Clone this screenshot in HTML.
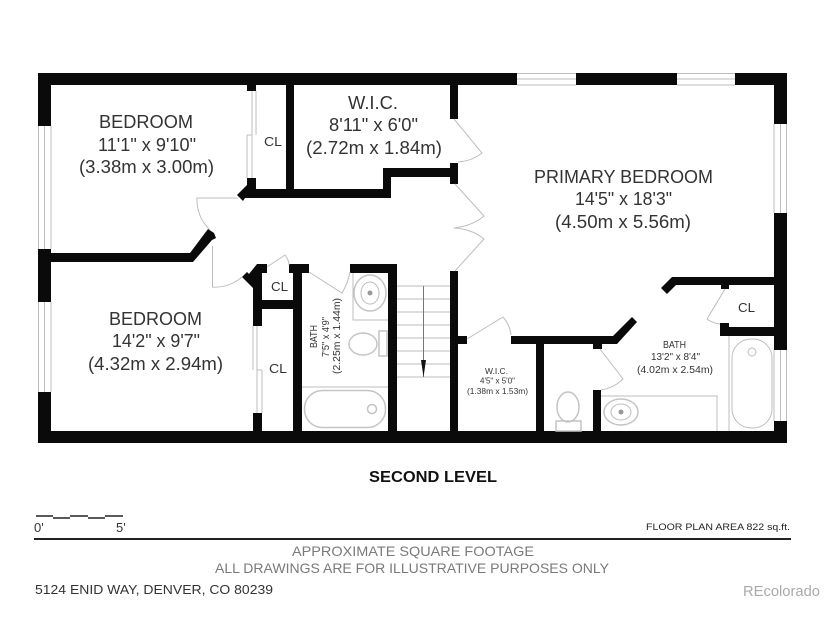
<!DOCTYPE html>
<html><head><meta charset="utf-8"><style>
html,body{margin:0;padding:0;background:#fff;width:825px;height:619px;overflow:hidden}
svg{display:block}
text{font-family:"Liberation Sans",sans-serif;fill:#333}
.w{fill:#0a0a0a;stroke:none}
.t{fill:none;stroke:#bdbdbd;stroke-width:1}
.f{fill:none;stroke:#c4c4c4;stroke-width:1.5}
</style></head><body>
<svg width="825" height="619" viewBox="0 0 825 619" xmlns="http://www.w3.org/2000/svg">
<rect width="825" height="619" fill="#fff"/>
<!-- windows -->
<g class="t">
<path d="M38.500 126V249M44.500 126V249M51 126V249M38.500 302V392M44.500 302V392M51 302V392"/>
<path d="M517 73.500H576M517 79H576M517 85H576M677 73.500H735M677 79H735M677 85H735"/>
<path d="M774 124V213M780.500 124V213M786.500 124V213M774 350V421M780.500 350V421M786.500 350V421"/>
<path d="M252 91V135M256 91V135M247 135H252M247 135V178M252 135V178"/>
<path d="M253 326V370M257 326V370M257 370H262M257 370V413M262 370V413"/>
</g>
<!-- walls -->
<g class="w">
<rect x="38" y="73" width="479" height="12"/>
<rect x="576" y="73" width="101" height="12"/>
<rect x="735" y="73" width="52" height="12"/>
<rect x="38" y="431" width="749" height="12"/>
<rect x="38" y="73" width="13" height="53"/>
<rect x="38" y="249" width="13" height="53"/>
<rect x="38" y="392" width="13" height="51"/>
<rect x="774" y="73" width="13" height="51"/>
<rect x="774" y="213" width="13" height="137"/>
<rect x="774" y="421" width="13" height="22"/>
<polygon points="51,253 190,253 208,229 214,233 216,238 212,240 193,262 51,262"/>
<rect x="247" y="85" width="9" height="6"/>
<polygon points="247,178 256,178 256,189 391,189 391,198 245,198 243,201 237,195 247,185"/>
<rect x="286" y="85" width="8" height="104"/>
<polygon points="383,168 450,168 450,177 391,177 391,198 383,198"/>
<rect x="450" y="85" width="8" height="34"/>
<rect x="450" y="163" width="8" height="21"/>
<rect x="450" y="271" width="8" height="160"/>
<rect x="458" y="336" width="9" height="8"/>
<polygon points="511,336 613,336 632,317 637,322 617,344 602,344 602,349 593,349 593,344 511,344"/>
<rect x="536" y="344" width="8" height="87"/>
<rect x="593" y="390" width="8" height="41"/>
<polygon points="672,277 774,277 774,285 729,285 729,289 721,289 721,285 676,285 667,294 661,288"/>
<polygon points="720,323 729,323 729,327 774,327 774,336 720,336"/>
<polygon points="242,277 247,272 249,274 257,264 267,264 267,273 262,273 262,300 293,300 293,273 289,273 289,264 309,264 309,273 302,273 302,431 293,431 293,309 262,309 262,326 253,326 253,288"/>
<rect x="253" y="413" width="9" height="18"/>
<polygon points="350,264 397,264 397,431 388,431 388,273 350,273"/>
</g>
<!-- doors -->
<g class="t">
<path d="M238 198H197A41 41 0 0 0 210 230"/>
<path d="M212.500 246V287A41 41 0 0 0 242 277"/>
<path d="M267 267L285 255Q289 260 289 265"/>
<path d="M309 272L342 293Q348 283 350 272"/>
<path d="M454 119L482 153Q472 161 458 162"/>
<path d="M455 184L484 216Q472 226 454 228Q472 229 484 239L455 271"/>
<path d="M467 339L503 317Q510 325 511 335"/>
<path d="M600 349L623 379Q614 388 601 390"/>
<path d="M725 289L707 319Q712 323 720 324"/>
</g>
<!-- stairs -->
<g class="t">
<path d="M397 286H450M397 299H450M397 312H450M397 325H450M397 338H450M397 351H450M397 364H450M397 377H450"/>
</g>
<path d="M423.500 286V377" stroke="#777" stroke-width="1" fill="none"/>
<polygon points="421,360 426,360 423.500,377" fill="#111"/>
<!-- fixtures -->
<g class="f">
<path d="M353 273V320H388" class="t"/>
<ellipse cx="370" cy="293" rx="16" ry="18"/>
<ellipse cx="370" cy="293" rx="9" ry="11" class="t"/>
<ellipse cx="363" cy="344" rx="14" ry="11"/>
<rect x="379" y="331" width="8" height="25"/>
<path d="M302 387H388" class="t"/>
<rect x="304.500" y="390.500" width="81" height="37" rx="18"/>
<circle cx="372" cy="409" r="4.500" />
<rect x="732" y="339" width="40" height="89" rx="19" class="t"/>
<circle cx="752" cy="352" r="4" class="t"/>
<path d="M729 336V431" class="t"/>
<path d="M601 396H717V431" class="t"/>
<ellipse cx="621" cy="412" rx="17" ry="13"/>
<ellipse cx="621" cy="412" rx="10" ry="8" class="t"/>
<ellipse cx="568" cy="407" rx="11" ry="15"/>
<rect x="556" y="421" width="25" height="10"/>
</g>
<circle cx="370" cy="293" r="2.500" fill="#999"/>
<circle cx="621" cy="412" r="2.500" fill="#999"/>
<!-- labels -->
<g font-size="18">
<text x="99" y="128" textLength="94" lengthAdjust="spacingAndGlyphs">BEDROOM</text>
<text x="98" y="151" textLength="98" lengthAdjust="spacingAndGlyphs">11'1" x 9'10"</text>
<text x="79" y="173" textLength="135" lengthAdjust="spacingAndGlyphs">(3.38m x 3.00m)</text>
<text x="109" y="325" textLength="93" lengthAdjust="spacingAndGlyphs">BEDROOM</text>
<text x="112" y="347" textLength="88" lengthAdjust="spacingAndGlyphs">14'2" x 9'7"</text>
<text x="88" y="370" textLength="135" lengthAdjust="spacingAndGlyphs">(4.32m x 2.94m)</text>
<text x="348" y="109" textLength="50" lengthAdjust="spacingAndGlyphs">W.I.C.</text>
<text x="329" y="131" textLength="89" lengthAdjust="spacingAndGlyphs">8'11" x 6'0"</text>
<text x="306" y="154" textLength="136" lengthAdjust="spacingAndGlyphs">(2.72m x 1.84m)</text>
<text x="534" y="183" textLength="179" lengthAdjust="spacingAndGlyphs">PRIMARY BEDROOM</text>
<text x="575" y="205" textLength="97" lengthAdjust="spacingAndGlyphs">14'5" x 18'3"</text>
<text x="555" y="228" textLength="136" lengthAdjust="spacingAndGlyphs">(4.50m x 5.56m)</text>
</g>
<g font-size="13">
<text x="264" y="146" textLength="18" lengthAdjust="spacingAndGlyphs">CL</text>
<text x="271" y="291" textLength="17" lengthAdjust="spacingAndGlyphs">CL</text>
<text x="269" y="373" textLength="18" lengthAdjust="spacingAndGlyphs">CL</text>
<text x="738" y="312" textLength="17" lengthAdjust="spacingAndGlyphs">CL</text>
</g>
<g font-size="10">
<text transform="translate(317,348) rotate(-90)" textLength="23" lengthAdjust="spacingAndGlyphs">BATH</text>
<text transform="translate(329,357) rotate(-90)" textLength="40" lengthAdjust="spacingAndGlyphs">7'5" x 4'9"</text>
<text transform="translate(340,374) rotate(-90)" textLength="76" lengthAdjust="spacingAndGlyphs">(2.25m x 1.44m)</text>
<text x="663" y="348" textLength="23" lengthAdjust="spacingAndGlyphs">BATH</text>
<text x="651" y="360" textLength="49" lengthAdjust="spacingAndGlyphs">13'2" x 8'4"</text>
<text x="637" y="373" textLength="76" lengthAdjust="spacingAndGlyphs">(4.02m x 2.54m)</text>
</g>
<g font-size="8.500">
<text x="485" y="374" textLength="23" lengthAdjust="spacingAndGlyphs">W.I.C.</text>
<text x="480" y="383.500" textLength="35" lengthAdjust="spacingAndGlyphs">4'5" x 5'0"</text>
<text x="467" y="394" textLength="61" lengthAdjust="spacingAndGlyphs">(1.38m x 1.53m)</text>
</g>
<text x="369" y="482" font-size="16" font-weight="bold" textLength="128" lengthAdjust="spacingAndGlyphs" style="fill:#111">SECOND LEVEL</text>
<path d="M36 516H53M53 518H70M70 516H88M88 518H105M105 516H123" stroke="#222" stroke-width="1.500" fill="none"/>
<text x="34" y="532" font-size="13">0'</text>
<text x="116" y="532" font-size="13">5'</text>
<text x="646" y="530" font-size="9.500" textLength="144" lengthAdjust="spacingAndGlyphs" style="fill:#222">FLOOR PLAN AREA 822 sq.ft.</text>
<rect x="34" y="538" width="757" height="2" fill="#222"/>
<text x="292" y="556" font-size="14" textLength="242" lengthAdjust="spacingAndGlyphs" style="fill:#7a7a7a">APPROXIMATE SQUARE FOOTAGE</text>
<text x="215" y="573" font-size="14" textLength="394" lengthAdjust="spacingAndGlyphs" style="fill:#7a7a7a">ALL DRAWINGS ARE FOR ILLUSTRATIVE PURPOSES ONLY</text>
<text x="35" y="594" font-size="13" textLength="238" lengthAdjust="spacingAndGlyphs">5124 ENID WAY, DENVER, CO 80239</text>
<text x="743" y="596" font-size="14.500" textLength="77" lengthAdjust="spacingAndGlyphs" style="fill:#aaa">REcolorado</text>
</svg>
</body></html>
